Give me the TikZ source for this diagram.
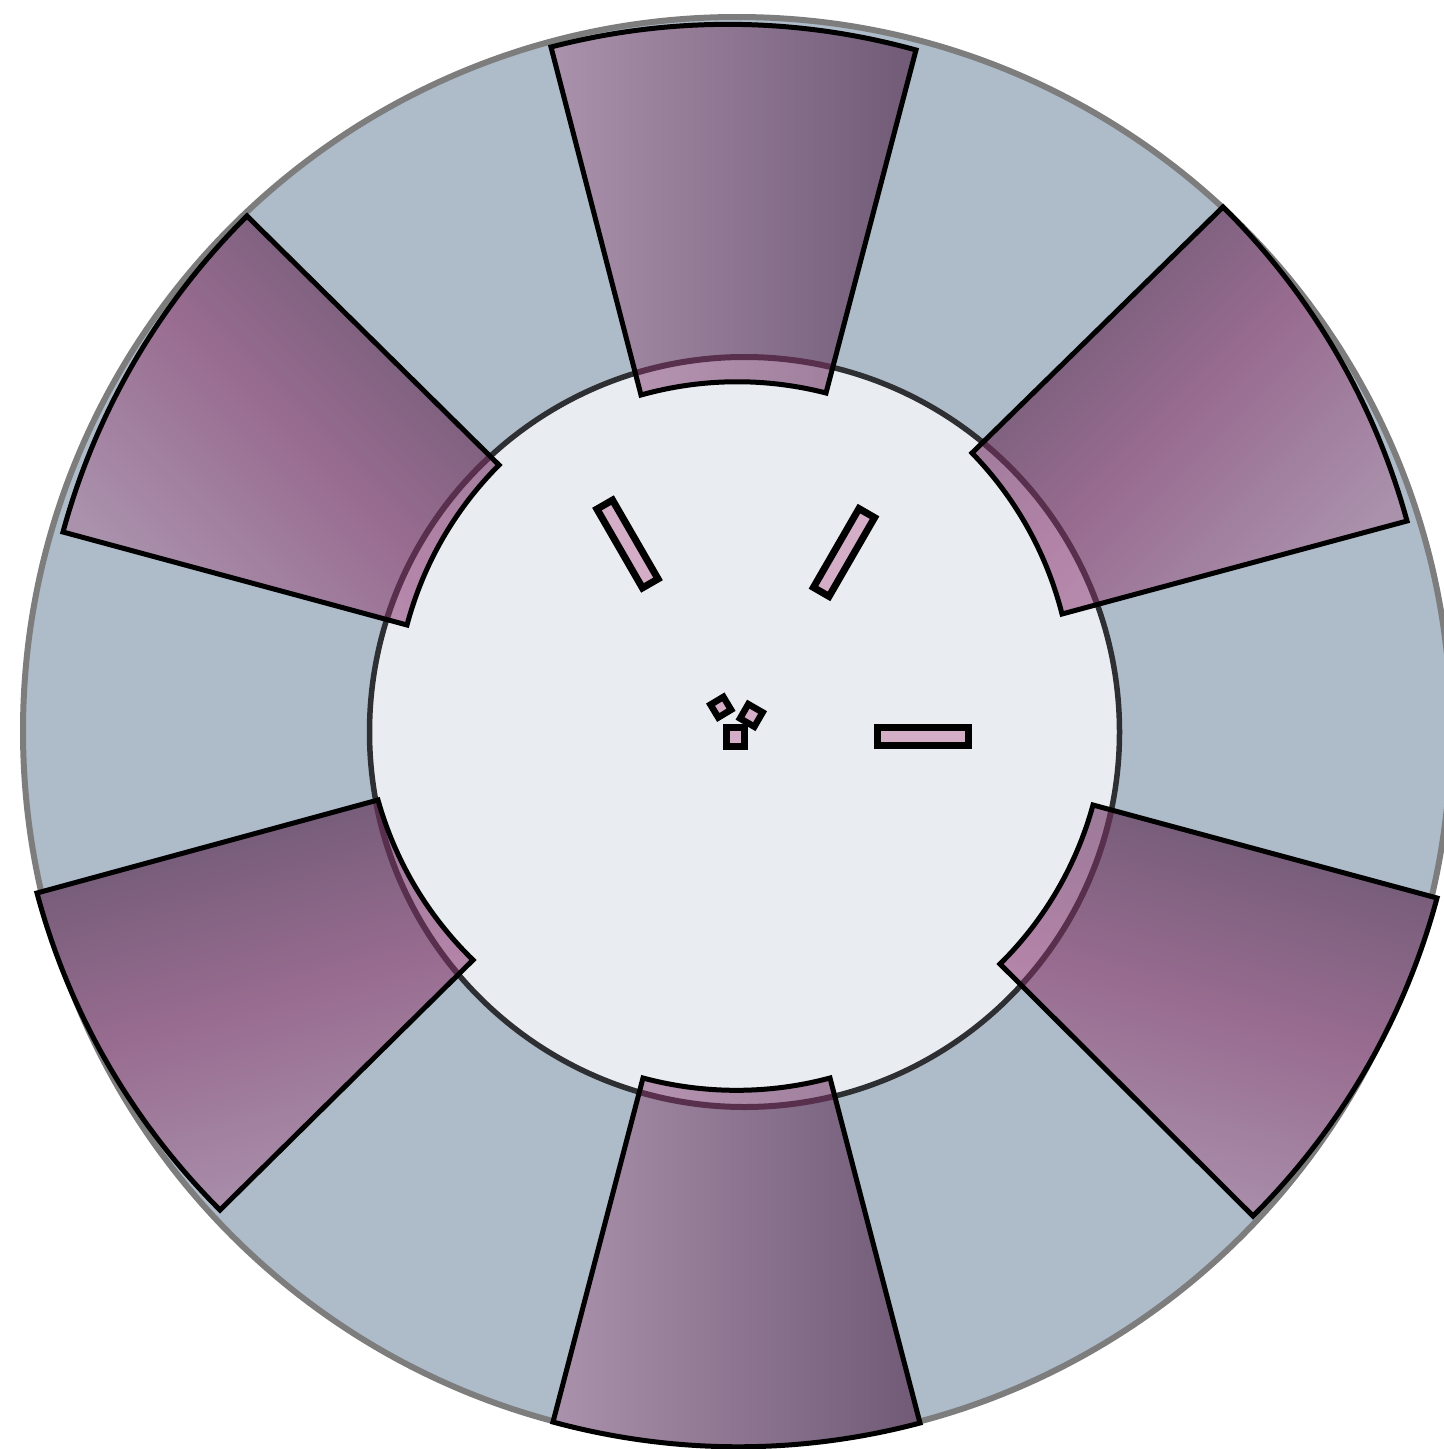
\documentclass[tikz,border=0pt]{standalone}
\usetikzlibrary{calc}
\definecolor{discbg}{RGB}{174,187,200}
\definecolor{innerbg}{RGB}{233,236,240}
\definecolor{rimgray}{RGB}{125,125,125}
\definecolor{innerrim}{RGB}{45,47,50}
\definecolor{plight}{RGB}{170,145,172}
\definecolor{pmid}{RGB}{152,108,144}
\definecolor{pdark}{RGB}{112,90,117}
\definecolor{pband}{RGB}{88,48,78}
\definecolor{povl}{RGB}{232,180,215}
\definecolor{barpink}{RGB}{212,174,198}
\tikzset{
  bar/.style={rectangle, draw=black, fill=barpink, line width=0.07cm,
    minimum width=0.91cm, minimum height=0.18cm, inner sep=0pt},
  tinysq/.style={rectangle, draw=black, fill=barpink, line width=0.065cm,
    minimum size=0.16cm, inner sep=0pt},
  sectorline/.style={draw=black, line width=0.05cm, line join=miter},
  arcin/.style={bend right=15, looseness=0.87},
  arcout/.style={bend left=15, looseness=0.87},
  shA/.style={left color=plight, middle color=pmid, right color=pdark},
  shB/.style={top color=pdark, bottom color=plight, middle color=pmid, shading angle=45},
  shC/.style={top color=pdark, bottom color=plight, middle color=pmid, shading angle=-15},
  shD/.style={top color=pdark, bottom color=plight, middle color=pmid, shading angle=15},
  shE/.style={top color=pdark, bottom color=plight, middle color=pmid, shading angle=-45},
}
\newcommand\sectpath[1]{(#1i1) to[arcin] (#1i2) -- (#1o2) to[arcout] (#1o1) -- cycle}
\begin{document}
\begin{tikzpicture}
\useasboundingbox (0,0) rectangle (14.44,-14.49);
% sector corners
\coordinate (Ti1) at (8.26,-3.93);   \coordinate (Ti2) at (6.41,-3.95);
\coordinate (To2) at (5.51,-0.47);   \coordinate (To1) at (9.16,-0.50);
\coordinate (Ai1) at (10.62,-6.14);  \coordinate (Ai2) at (9.72,-4.53);
\coordinate (Ao2) at (12.23,-2.07);  \coordinate (Ao1) at (14.07,-5.21);
\coordinate (Ci1) at (10.00,-9.64);  \coordinate (Ci2) at (10.93,-8.05);
\coordinate (Co2) at (14.37,-8.98);  \coordinate (Co1) at (12.53,-12.16);
\coordinate (Bi1) at (6.43,-10.78);  \coordinate (Bi2) at (8.30,-10.78);
\coordinate (Bo2) at (9.20,-14.23);  \coordinate (Bo1) at (5.53,-14.22);
\coordinate (Di1) at (3.78,-8.00);   \coordinate (Di2) at (4.73,-9.60);
\coordinate (Do2) at (2.20,-12.10);  \coordinate (Do1) at (0.37,-8.93);
\coordinate (Ei1) at (4.99,-4.65);   \coordinate (Ei2) at (4.07,-6.25);
\coordinate (Eo2) at (0.63,-5.32);   \coordinate (Eo1) at (2.47,-2.16);
% outer disc
\fill[discbg] (7.37,-7.31) circle (7.14);
\draw[rimgray, line width=0.06cm] (7.37,-7.31) circle (7.14);
% inner disc
\fill[innerbg] (7.445,-7.32) circle (3.75);
\draw[innerrim, line width=0.055cm] (7.445,-7.32) circle (3.75);
% sectors
\foreach \n/\s in {T/shA, A/shB, C/shC, B/shA, D/shD, E/shE} {
  \shade[\s] \sectpath{\n};
  \begin{scope}
    \clip \sectpath{\n};
    \fill[povl, opacity=0.33] (7.445,-7.32) circle (3.75);
    \draw[pband, line width=0.06cm] (7.445,-7.32) circle (3.75);
  \end{scope}
  \draw[sectorline] \sectpath{\n};
}
% small bars
\node[bar, rotate=-60] (barL) at (6.275,-5.44) {};
\node[bar, rotate=60] (barR) at (8.44,-5.525) {};
\node[bar] (barH) at (9.23,-7.365) {};
% tiny squares
\node[tinysq, minimum size=0.15cm, rotate=31] (sqA) at (7.208,-7.072) {};
\node[tinysq, minimum size=0.165cm, rotate=-30] (sqB) at (7.513,-7.154) {};
\node[tinysq, minimum size=0.185cm, line width=0.07cm] (sqC) at (7.357,-7.37) {};
\end{tikzpicture}
\end{document}
